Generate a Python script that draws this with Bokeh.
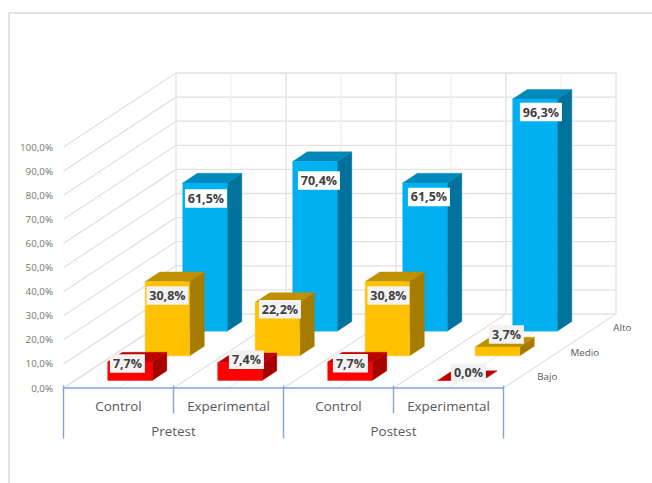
from bokeh.plotting import figure
from bokeh.models import ColumnDataSource, Range1d
from bokeh.core.properties import value
from bokeh.embed import file_html
from bokeh.resources import INLINE

# Survey results by group and phase
phases = ["Pretest", "Postest"]
groups = ["Control", "Experimental", "Control", "Experimental"]
levels = ["Bajo", "Medio", "Alto"]
bajo = [7.7, 7.4, 7.7, 0.0]
medio = [30.8, 22.2, 30.8, 3.7]
alto = [61.5, 70.4, 61.5, 96.3]
ticks = [0, 10, 20, 30, 40, 50, 60, 70, 80, 90, 100]

WIDTH, HEIGHT = 652, 483
PX_CAT = 110.0      # pixels per category
PX_PCT = 2.41       # pixels per percentage point
LEFT, BASE = 63.0, 387.5    # pixel position of the front-left floor corner
DEPTH_X = 112.5 / PX_CAT    # oblique shift of the full depth, in category units
DEPTH_Y = 74.0 / PX_PCT     # the same shift, in percentage points
BAR_W = 44.5 / PX_CAT
BAR_D = 0.13

FONT = value("Open Sans")
GRID = "#E2E2E2"
GRID_LIGHT = "#F0F0F0"
LABEL = "#595959"
TICK = "#737373"
BRACKET = "#7EA6D8"

p = figure(width=WIDTH, height=HEIGHT, output_backend="svg", toolbar_location=None,
           x_range=Range1d(-LEFT / PX_CAT, (WIDTH - LEFT) / PX_CAT),
           y_range=Range1d(-(HEIGHT - BASE) / PX_PCT, BASE / PX_PCT),
           min_border=0, outline_line_color=None, background_fill_color="white",
           border_fill_color="white")
p.axis.visible = False
p.grid.visible = False


def proj(cat, pct, depth):
    """Oblique projection of (category, percent, depth) onto the plot's data space."""
    return cat + depth * DEPTH_X, pct + depth * DEPTH_Y


def seg(c0, v0, d0, c1, v1, d1, color, width=1.3):
    a, b = proj(c0, v0, d0), proj(c1, v1, d1)
    p.line([a[0], b[0]], [a[1], b[1]], line_color=color, line_width=width)


# Outer chart frame
x_left = -LEFT / PX_CAT + 8.5 / PX_CAT
y_top = (BASE - 12.5) / PX_PCT
p.line([x_left, x_left, (WIDTH - LEFT) / PX_CAT], [-(HEIGHT - BASE) / PX_PCT, y_top, y_top],
       line_color="#D9D9D9", line_width=1.5)

# Side wall and back wall
for t in ticks:
    seg(0, t, 0, 0, t, 1, GRID)
    seg(0, t, 1, 4, t, 1, GRID)

# Floor and back wall verticals, major at group edges and minor at group centres
for i in range(9):
    c = i / 2
    col = GRID if i % 2 == 0 else GRID_LIGHT
    seg(c, 0, 0, c, 0, 1, col)
    seg(c, 0, 1, c, 100, 1, col)

# Category brackets below the floor
seg(0, 0, 0, 4, 0, 0, BRACKET, 1.4)
for c in range(5):
    bottom = -50.5 / PX_PCT if c % 2 == 0 else -25.5 / PX_PCT
    p.line([c, c], [1.0, bottom], line_color=BRACKET, line_width=1.4)


def bar(c, v, depth_c, front, side, top):
    """Draw a single 3D bar as three faces, back faces first."""
    x0 = c + 0.5 - BAR_W / 2
    x1 = c + 0.5 + BAR_W / 2
    d0 = depth_c - BAR_D / 2
    d1 = depth_c + BAR_D / 2
    corners = [
        ([(x1, 0, d0), (x1, 0, d1), (x1, v, d1), (x1, v, d0)], side),
        ([(x0, v, d0), (x1, v, d0), (x1, v, d1), (x0, v, d1)], top),
        ([(x0, 0, d0), (x1, 0, d0), (x1, v, d0), (x0, v, d0)], front),
    ]
    for pts, col in corners:
        xy = [proj(*q) for q in pts]
        p.patch([q[0] for q in xy], [q[1] for q in xy], fill_color=col,
                line_color=col, line_width=0.4)


series = [
    (alto, 5 / 6, "#00B0F0", "#00729C", "#0088BA"),
    (medio, 3 / 6, "#FFC000", "#A67C00", "#BF9000"),
    (bajo, 1 / 6, "#FF0000", "#A60000", "#BF0000"),
]
for values, depth_c, front, side, top in series:
    for c, v in enumerate(values):
        bar(c, v, depth_c, front, side, top)

# Value labels: pixel nudges from the top-centre of each bar's front face
nudges = {
    5 / 6: [(1, 15.5), (4, 19), (4, 14), (6, 13)],
    3 / 6: [(0, 14), (2.5, 7), (1, 14), (9, -12.5)],
    1 / 6: [(-2.5, 1.5), (6.5, -3), (0.5, 1.3), (8.5, -7.5)],
}
for values, depth_c, front, side, top in series:
    fill = "#FFFFFF" if depth_c > 0.7 else "#F2F2F2"
    for c, v in enumerate(values):
        dx, dy = nudges[depth_c][c]
        x, y = proj(c + 0.5, v, depth_c - BAR_D / 2)
        x += dx / PX_CAT
        y -= dy / PX_PCT
        txt = f"{v:.1f}%".replace(".", ",")
        w = 42 if v >= 10 else 35
        src = ColumnDataSource(dict(x=[x], y=[y], t=[txt]))
        p.rect("x", "y", width=w, height=18.5, width_units="screen", height_units="screen",
               source=src, fill_color=fill, line_color=None)
        p.text("x", "y", text="t", source=src, text_font=FONT, text_font_style="bold",
               text_font_size="12.5px", text_color="#404040", text_align="center",
               text_baseline="middle")

# Percent ticks beside the side wall
tick_src = ColumnDataSource(dict(
    x=[-10.5 / PX_CAT] * len(ticks), y=ticks,
    t=[f"{t:.1f}%".replace(".", ",") for t in ticks]))
p.text("x", "y", text="t", source=tick_src, text_font=FONT, text_font_size="9.8px",
       text_color=TICK, text_align="right", text_baseline="middle")

# Group and phase labels under the floor
cat_src = ColumnDataSource(dict(x=[i + 0.5 for i in range(4)], y=[-17.5 / PX_PCT] * 4, t=groups))
p.text("x", "y", text="t", source=cat_src, text_font=FONT, text_font_size="13.4px",
       text_color=LABEL, text_align="center", text_baseline="middle")
ph_src = ColumnDataSource(dict(x=[1, 3], y=[-42.5 / PX_PCT] * 2, t=phases))
p.text("x", "y", text="t", source=ph_src, text_font=FONT, text_font_size="13.4px",
       text_color=LABEL, text_align="center", text_baseline="middle")

# Depth axis labels to the right of the floor edge
xs, ys = [], []
for i in range(3):
    x, y = proj(4, 0, (i + 0.5) / 3)
    xs.append(x + 25.0 / PX_CAT)
    ys.append(y - 1.0 / PX_PCT)
dep_src = ColumnDataSource(dict(x=xs, y=ys, t=levels))
p.text("x", "y", text="t", source=dep_src, text_font=FONT, text_font_size="9.8px",
       text_color=LABEL, text_align="center", text_baseline="middle")

open("out.html", "w").write(file_html(p, INLINE))
